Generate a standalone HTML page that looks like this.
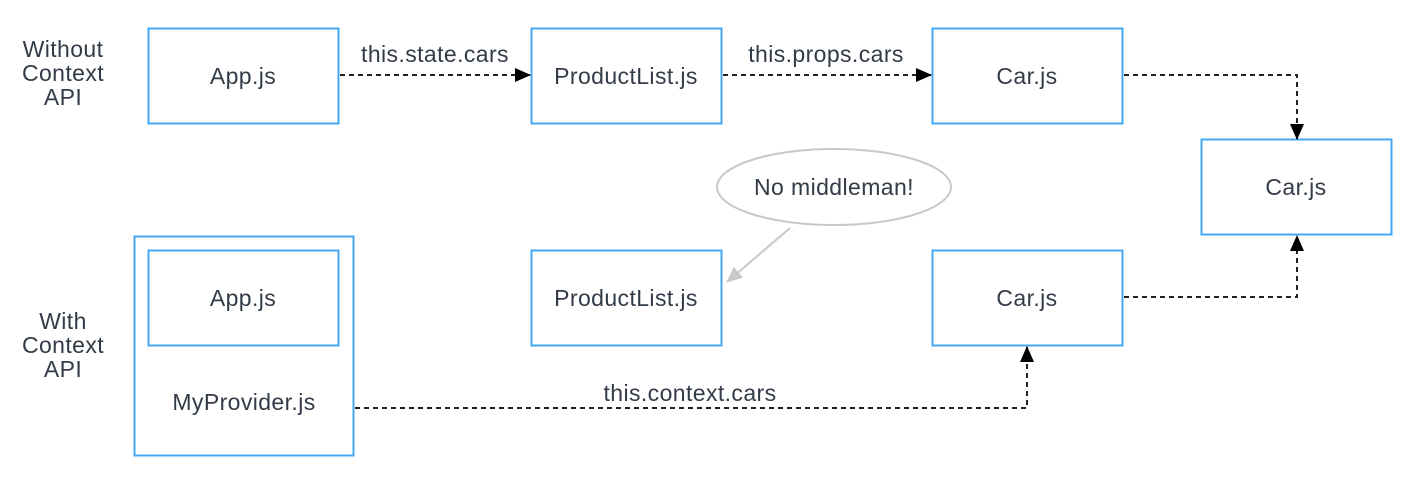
<!DOCTYPE html>
<html><head><meta charset="utf-8"><style>
html,body{margin:0;padding:0;background:#fff;width:1426px;height:504px;overflow:hidden}
svg{display:block}
text{font-family:"Liberation Sans",sans-serif;font-size:23px;letter-spacing:0.4px;fill:#333b47;text-anchor:middle}
</style></head><body>
<svg width="1426" height="504" viewBox="0 0 1426 504" xmlns="http://www.w3.org/2000/svg">
<defs>
<marker id="ah" markerWidth="16" markerHeight="14" refX="15" refY="7" orient="auto" markerUnits="userSpaceOnUse">
<path d="M0,0 L16,7 L0,14 z" fill="#000"/></marker>
<marker id="gh" markerWidth="16" markerHeight="14" refX="15" refY="7" orient="auto" markerUnits="userSpaceOnUse">
<path d="M0,0 L16,7 L0,14 z" fill="#c8c8c8"/></marker>
</defs>
<g fill="none" stroke="#42a8f5" stroke-width="2">
<rect x="148.5" y="28.5" width="190" height="95"/>
<rect x="531.5" y="28.5" width="190" height="95"/>
<rect x="932.5" y="28.5" width="190" height="95"/>
<rect x="1201.5" y="139.5" width="190" height="95"/>
<rect x="134.5" y="236.5" width="219" height="219"/>
<rect x="148.5" y="250.5" width="190" height="95"/>
<rect x="531.5" y="250.5" width="190" height="95"/>
<rect x="932.5" y="250.5" width="190" height="95"/>
</g>
<g fill="none" stroke="#222" stroke-width="2" stroke-dasharray="5,4">
<path d="M340,75 H530" marker-end="url(#ah)"/>
<path d="M723,75 H931" marker-end="url(#ah)"/>
<path d="M1124,75 H1297 V139" marker-end="url(#ah)"/>
<path d="M1124,297 H1297 V236" marker-end="url(#ah)"/>
<path d="M355,408 H1027 V347" marker-end="url(#ah)"/>
</g>
<ellipse cx="834" cy="187" rx="117" ry="38" fill="#fff" stroke="#c8c8c8" stroke-width="2"/>
<path d="M790,228 L727,282" stroke="#c8c8c8" stroke-width="2" fill="none" marker-end="url(#gh)"/>
<text x="834" y="195">No middleman!</text>
<text x="243" y="84">App.js</text>
<text x="626" y="84">ProductList.js</text>
<text x="1027" y="84">Car.js</text>
<text x="1296" y="195">Car.js</text>
<text x="243" y="306">App.js</text>
<text x="626" y="306">ProductList.js</text>
<text x="1027" y="306">Car.js</text>
<text x="244" y="410">MyProvider.js</text>
<text x="435" y="62">this.state.cars</text>
<text x="826" y="62">this.props.cars</text>
<text x="690" y="401">this.context.cars</text>
<text x="63" y="57">Without</text>
<text x="63" y="81">Context</text>
<text x="63" y="105">API</text>
<text x="63" y="329">With</text>
<text x="63" y="353">Context</text>
<text x="63" y="377">API</text>
</svg>
</body></html>
